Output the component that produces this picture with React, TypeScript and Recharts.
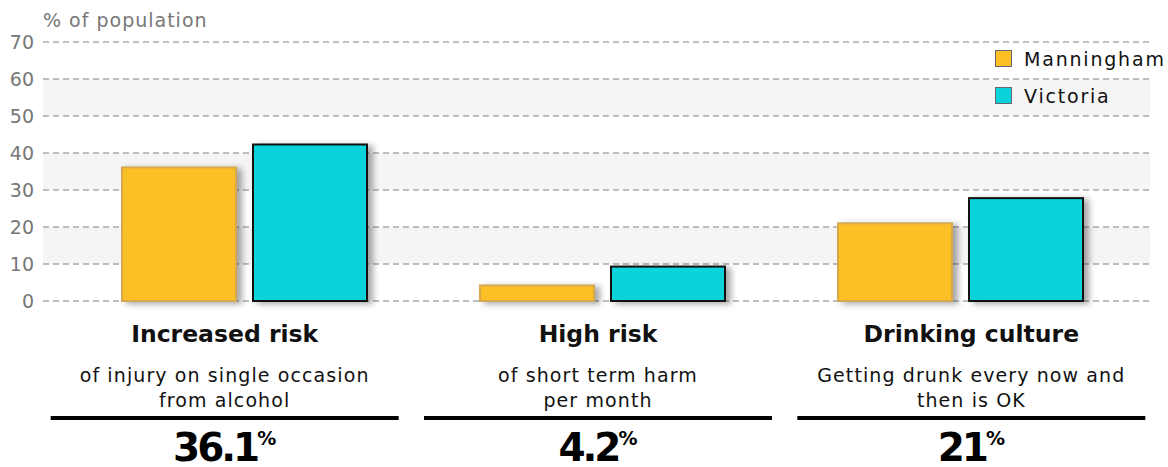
import React from 'react';
import { BarChart, Bar, XAxis, YAxis, CartesianGrid, Legend, Label } from 'recharts';

const categories = ['Increased risk', 'High risk', 'Drinking culture'];
const subtitles = [
  ['of injury on single occasion', 'from alcohol'],
  ['of short term harm', 'per month'],
  ['Getting drunk every now and', 'then is OK'],
];
const manningham = [36.1, 4.2, 21];
const victoria = [42.3, 9.3, 27.8];
const headline = ['36.1', '4.2', '21'];
const yTicks = [0, 10, 20, 30, 40, 50, 60, 70];

const data = categories.map((name, i) => ({
  name,
  manningham: manningham[i],
  victoria: victoria[i],
}));

const FONT = '"DejaVu Sans", sans-serif';

const ShadowBar = (props: any) => {
  const { x, y, width, height, fill, stroke } = props;
  if (!height || height <= 0) return null;
  return (
    <rect
      x={x}
      y={y}
      width={width}
      height={height}
      fill={fill}
      stroke={stroke}
      strokeWidth={2}
      style={{ filter: 'drop-shadow(5px 2px 3px rgba(0,0,0,0.35))' }}
    />
  );
};

// tick y comes in below the plot bottom, so work back from the plot bottom
const CategoryTick = (props: any) => {
  const { x, y, payload } = props;
  const i = payload.index;
  const top = y - 30;
  return (
    <g fontFamily={FONT}>
      <text x={x} y={top + 41} textAnchor="middle" fontSize={23.5} fontWeight="bold" fill="#111">
        {categories[i]}
      </text>
      <text x={x} y={top + 81} textAnchor="middle" fontSize={19} letterSpacing={1.1} fill="#111">
        {subtitles[i][0]}
      </text>
      <text x={x} y={top + 106} textAnchor="middle" fontSize={19} letterSpacing={1.1} fill="#111">
        {subtitles[i][1]}
      </text>
      <rect x={x - 174} y={top + 115} width={348} height={4} fill="#000" />
      <text x={x} y={top + 160} textAnchor="middle" fontSize={39} fontWeight="bold" letterSpacing={-3} fill="#000">
        {headline[i]}
        <tspan dy={-16} fontSize={19} letterSpacing={0}>%</tspan>
      </text>
    </g>
  );
};

const LegendContent = (props: any) => {
  const { payload } = props;
  return (
    <div style={{ fontFamily: FONT }}>
      {(payload || []).map((p: any) => (
        <div key={p.value} style={{ display: 'flex', alignItems: 'center', height: 37 }}>
          <span
            style={{
              width: 15,
              height: 15,
              background: p.color,
              border: '1.5px solid #667',
              marginRight: 12,
            }}
          />
          <span style={{ fontSize: 19, letterSpacing: 1.8, color: '#111' }}>{p.value}</span>
        </div>
      ))}
    </div>
  );
};

export default function App() {
  return (
    <div style={{ position: 'absolute', left: 0, top: 0, width: 1168, height: 467, background: '#fff' }}>
      <BarChart
        width={1168}
        height={467}
        data={data}
        margin={{ top: 42, right: 18, left: 0, bottom: 0 }}
        barGap={17}
        barSize={114}
      >
        <CartesianGrid
          vertical={false}
          stroke="#808080"
          strokeDasharray="6 4"
          horizontalFill={['#ffffff', '#f5f5f5']}
          fillOpacity={1}
        />
        <XAxis xAxisId="bars" dataKey="name" hide padding={{ left: 22, right: 11 }} />
        <XAxis
          xAxisId="labels"
          dataKey="name"
          height={166}
          axisLine={false}
          tickLine={false}
          tickSize={0}
          tickMargin={0}
          interval={0}
          padding={{ left: -5, right: -8 }}
          tick={<CategoryTick />}
        />
        <YAxis
          width={43}
          domain={[0, 70]}
          ticks={yTicks}
          axisLine={false}
          tickLine={false}
          tickMargin={3}
          tick={{ fill: '#777', fontSize: 19, fontFamily: FONT }}
        >
          <Label
            content={() => (
              <text x={43} y={27} fill="#777" fontSize={19} letterSpacing={1} fontFamily={FONT}>
                % of population
              </text>
            )}
          />
        </YAxis>
        <Legend
          layout="vertical"
          verticalAlign="middle"
          align="center"
          content={<LegendContent />}
          wrapperStyle={{ top: 40, left: 995, width: 173 }}
        />
        <Bar
          xAxisId="bars"
          dataKey="manningham"
          name="Manningham"
          fill="#fcc026"
          stroke="#d6a94e"
          shape={<ShadowBar />}
          isAnimationActive={false}
        />
        <Bar
          xAxisId="bars"
          dataKey="victoria"
          name="Victoria"
          fill="#0bd3dc"
          stroke="#111111"
          shape={<ShadowBar />}
          isAnimationActive={false}
        />
      </BarChart>
    </div>
  );
}
